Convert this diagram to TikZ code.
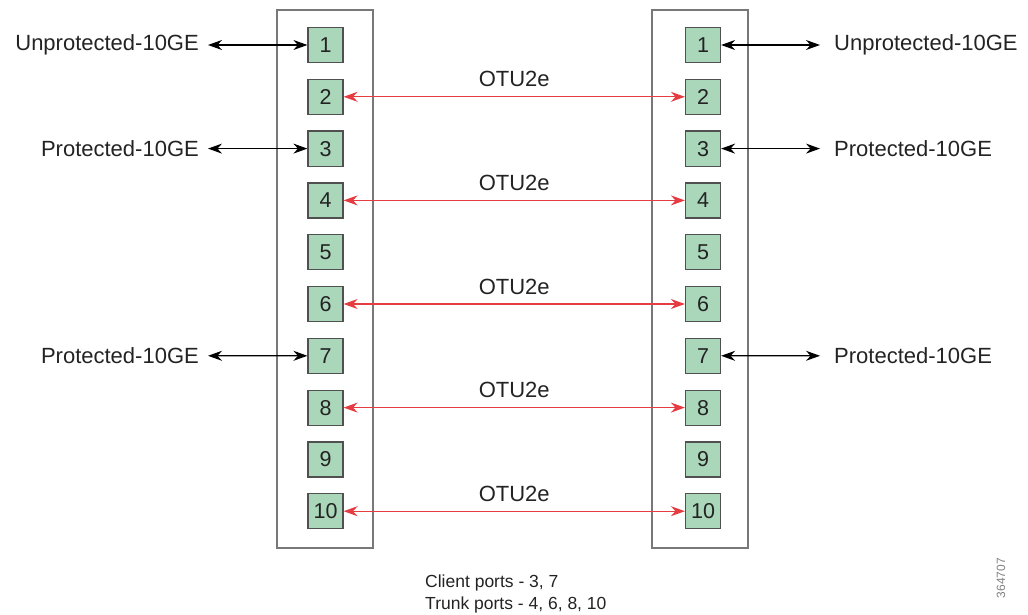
\documentclass[tikz,border=0pt]{standalone}
\usepackage{fontspec}
\setmainfont{Liberation Sans}
\usetikzlibrary{arrows.meta}
\definecolor{portfill}{RGB}{170,214,186}
\definecolor{portdraw}{RGB}{80,80,80}
\definecolor{panelgray}{RGB}{120,120,120}
\definecolor{redline}{RGB}{228,60,64}
\definecolor{txt}{RGB}{35,35,35}
\begin{document}
\begin{tikzpicture}[x=1pt,y=-1pt,
  port/.style={draw=portdraw,fill=portfill,line width=1.2pt,minimum width=35pt,minimum height=35pt,inner sep=0pt,font=\fontsize{21.5}{24}\selectfont,text=txt},
  panel/.style={draw=panelgray,line width=1.3pt},
  lbl/.style={font=\fontsize{22}{24}\selectfont,text=txt,inner sep=0pt},
  biarrow/.style={line width=1.2pt,{Stealth[length=14pt,width=10pt]}-{Stealth[length=14pt,width=10pt]}},
  redarrow/.style={biarrow,draw=redline,color=redline},
  blkarrow/.style={biarrow,draw=black},
  note/.style={font=\fontsize{17.5}{19}\selectfont,text=txt,inner sep=0pt,anchor=west}
]
\useasboundingbox (0,0) rectangle (1028,615);
\draw[panel] (277,10) rectangle (373,548);
\draw[panel] (652,10) rectangle (748,548);
\foreach \i in {1,...,10}{
  \pgfmathsetmacro{\yy}{45+(\i-1)*51.8}
  \node[port] (L\i) at (325.5,\yy) {\i};
  \node[port] (R\i) at (703,\yy) {\i};
}
% client side
\node[lbl,anchor=east] (LU1) at (199,45) {Unprotected-10GE};
\node[lbl,anchor=west] (RU1) at (834,45) {Unprotected-10GE};
\node[lbl,anchor=east] (LP3) at (199,148.6) {Protected-10GE};
\node[lbl,anchor=west] (RP3) at (834,148.6) {Protected-10GE};
\node[lbl,anchor=east] (LP7) at (199,355.8) {Protected-10GE};
\node[lbl,anchor=west] (RP7) at (834,355.8) {Protected-10GE};
\foreach \a/\i in {LU1/1,LP3/3,LP7/7}{
  \draw[blkarrow] ([xshift=9pt]\a.east) -- (L\i.west);
}
\foreach \a/\i in {RU1/1,RP3/3,RP7/7}{
  \draw[blkarrow] (R\i.east) -- ([xshift=-14pt]\a.west);
}
% trunk
\foreach \i in {2,4,6,8,10}{
  \draw[redarrow] (L\i.east) -- node[lbl,above=9pt,text=txt] {OTU2e} (R\i.west);
}
\node[note] (n1) at (425,583) {Client ports - 3, 7};
\node[note] (n2) at (425,605) {Trunk ports - 4, 6, 8, 10};
\node[font=\fontsize{12}{14}\selectfont,text=gray,rotate=90,inner sep=0pt] (id) at (1001,578) {364707};
\end{tikzpicture}
\end{document}
